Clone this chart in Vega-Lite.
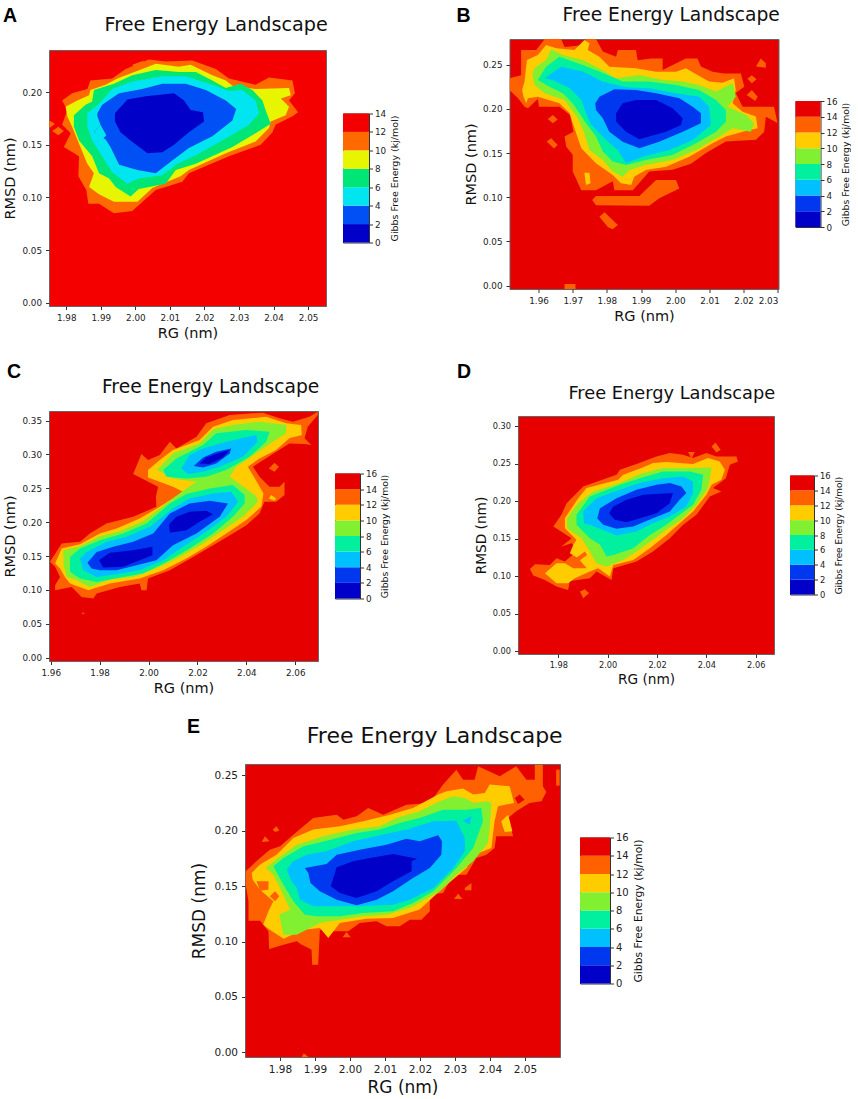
{"$schema":"https://vega.github.io/schema/vega-lite/v6.json","background":"white","padding":{"left":2,"top":5,"right":0,"bottom":0},"spacing":20,"align":"none","resolve":{"scale":{"color":"independent"}},
"config":{"font":"DejaVu Sans","axis":{"grid":false,"labelFontSize":8.8,"labelColor":"#222","labelOverlap":false,"titleColor":"#111","titleFontWeight":"normal","tickColor":"#333","domain":false,"tickSize":3.5,"labelPadding":4,"titleFontSize":14.5,"titlePadding":4}},
"datasets":{
"a":[
{"lv":12,"p":1,"x":1.9788,"y":0.192},{"lv":12,"p":1,"x":1.9817,"y":0.199},{"lv":12,"p":1,"x":1.9861,"y":0.203},{"lv":12,"p":1,"x":1.987,"y":0.211},{"lv":12,"p":1,"x":1.9933,"y":0.213},{"lv":12,"p":1,"x":1.9972,"y":0.222},{"lv":12,"p":1,"x":2.0039,"y":0.231},{"lv":12,"p":1,"x":2.0088,"y":0.229},{"lv":12,"p":1,"x":2.0165,"y":0.23},{"lv":12,"p":1,"x":2.0233,"y":0.222},{"lv":12,"p":1,"x":2.0271,"y":0.213},{"lv":12,"p":1,"x":2.0348,"y":0.207},{"lv":12,"p":1,"x":2.0387,"y":0.214},{"lv":12,"p":1,"x":2.0455,"y":0.211},{"lv":12,"p":1,"x":2.0462,"y":0.199},{"lv":12,"p":1,"x":2.0445,"y":0.192},{"lv":12,"p":1,"x":2.0471,"y":0.181},{"lv":12,"p":1,"x":2.0455,"y":0.177},{"lv":12,"p":1,"x":2.0406,"y":0.169},{"lv":12,"p":1,"x":2.0397,"y":0.162},{"lv":12,"p":1,"x":2.0363,"y":0.15},{"lv":12,"p":1,"x":2.0271,"y":0.139},{"lv":12,"p":1,"x":2.0155,"y":0.123},{"lv":12,"p":1,"x":2.0136,"y":0.115},{"lv":12,"p":1,"x":2.0059,"y":0.107},{"lv":12,"p":1,"x":1.9991,"y":0.087},{"lv":12,"p":1,"x":1.9938,"y":0.085},{"lv":12,"p":1,"x":1.9895,"y":0.094},{"lv":12,"p":1,"x":1.9864,"y":0.094},{"lv":12,"p":1,"x":1.9858,"y":0.107},{"lv":12,"p":1,"x":1.9835,"y":0.12},{"lv":12,"p":1,"x":1.9837,"y":0.139},{"lv":12,"p":1,"x":1.9793,"y":0.148},{"lv":12,"p":1,"x":1.9813,"y":0.161},{"lv":12,"p":1,"x":1.9788,"y":0.169},{"lv":12,"p":1,"x":1.9803,"y":0.183},
{"lv":12,"p":2,"x":1.9991,"y":0.226},{"lv":12,"p":2,"x":2.0025,"y":0.23},{"lv":12,"p":2,"x":2.0006,"y":0.22},
{"lv":12,"p":3,"x":1.975,"y":0.173},{"lv":12,"p":3,"x":1.9767,"y":0.17},{"lv":12,"p":3,"x":1.9752,"y":0.166},
{"lv":12,"p":4,"x":1.9759,"y":0.163},{"lv":12,"p":4,"x":1.9777,"y":0.167},{"lv":12,"p":4,"x":1.9793,"y":0.163},{"lv":12,"p":4,"x":1.9777,"y":0.159},
{"lv":10,"p":1,"x":1.9798,"y":0.186},{"lv":10,"p":1,"x":1.9832,"y":0.192},{"lv":10,"p":1,"x":1.9866,"y":0.197},{"lv":10,"p":1,"x":1.987,"y":0.202},{"lv":10,"p":1,"x":1.9914,"y":0.207},{"lv":10,"p":1,"x":1.9948,"y":0.213},{"lv":10,"p":1,"x":2.002,"y":0.222},{"lv":10,"p":1,"x":2.0059,"y":0.227},{"lv":10,"p":1,"x":2.0126,"y":0.224},{"lv":10,"p":1,"x":2.016,"y":0.226},{"lv":10,"p":1,"x":2.0223,"y":0.216},{"lv":10,"p":1,"x":2.0262,"y":0.211},{"lv":10,"p":1,"x":2.0281,"y":0.206},{"lv":10,"p":1,"x":2.0348,"y":0.203},{"lv":10,"p":1,"x":2.0445,"y":0.204},{"lv":10,"p":1,"x":2.045,"y":0.197},{"lv":10,"p":1,"x":2.0421,"y":0.194},{"lv":10,"p":1,"x":2.0445,"y":0.186},{"lv":10,"p":1,"x":2.0435,"y":0.178},{"lv":10,"p":1,"x":2.0392,"y":0.172},{"lv":10,"p":1,"x":2.0387,"y":0.166},{"lv":10,"p":1,"x":2.0348,"y":0.153},{"lv":10,"p":1,"x":2.0262,"y":0.142},{"lv":10,"p":1,"x":2.0155,"y":0.126},{"lv":10,"p":1,"x":2.0131,"y":0.12},{"lv":10,"p":1,"x":2.0049,"y":0.109},{"lv":10,"p":1,"x":2.0006,"y":0.096},{"lv":10,"p":1,"x":1.9938,"y":0.096},{"lv":10,"p":1,"x":1.9895,"y":0.103},{"lv":10,"p":1,"x":1.9866,"y":0.11},{"lv":10,"p":1,"x":1.988,"y":0.123},{"lv":10,"p":1,"x":1.9861,"y":0.132},{"lv":10,"p":1,"x":1.9837,"y":0.151},{"lv":10,"p":1,"x":1.9817,"y":0.167},{"lv":10,"p":1,"x":1.9803,"y":0.177},
{"lv":8,"p":1,"x":1.9822,"y":0.178},{"lv":8,"p":1,"x":1.9856,"y":0.188},{"lv":8,"p":1,"x":1.9875,"y":0.191},{"lv":8,"p":1,"x":1.988,"y":0.202},{"lv":8,"p":1,"x":1.9938,"y":0.208},{"lv":8,"p":1,"x":1.9991,"y":0.216},{"lv":8,"p":1,"x":2.0059,"y":0.221},{"lv":8,"p":1,"x":2.0126,"y":0.219},{"lv":8,"p":1,"x":2.0175,"y":0.219},{"lv":8,"p":1,"x":2.0223,"y":0.211},{"lv":8,"p":1,"x":2.0262,"y":0.204},{"lv":8,"p":1,"x":2.0305,"y":0.208},{"lv":8,"p":1,"x":2.0339,"y":0.202},{"lv":8,"p":1,"x":2.0368,"y":0.192},{"lv":8,"p":1,"x":2.0377,"y":0.183},{"lv":8,"p":1,"x":2.0392,"y":0.17},{"lv":8,"p":1,"x":2.0348,"y":0.161},{"lv":8,"p":1,"x":2.0281,"y":0.148},{"lv":8,"p":1,"x":2.0175,"y":0.132},{"lv":8,"p":1,"x":2.0117,"y":0.126},{"lv":8,"p":1,"x":2.0088,"y":0.113},{"lv":8,"p":1,"x":2.001,"y":0.108},{"lv":8,"p":1,"x":1.9986,"y":0.101},{"lv":8,"p":1,"x":1.9943,"y":0.11},{"lv":8,"p":1,"x":1.9924,"y":0.118},{"lv":8,"p":1,"x":1.9895,"y":0.123},{"lv":8,"p":1,"x":1.9875,"y":0.139},{"lv":8,"p":1,"x":1.9837,"y":0.154},{"lv":8,"p":1,"x":1.9822,"y":0.167},
{"lv":6,"p":1,"x":1.9861,"y":0.18},{"lv":6,"p":1,"x":1.9895,"y":0.189},{"lv":6,"p":1,"x":1.9933,"y":0.203},{"lv":6,"p":1,"x":1.9991,"y":0.21},{"lv":6,"p":1,"x":2.0078,"y":0.215},{"lv":6,"p":1,"x":2.0146,"y":0.215},{"lv":6,"p":1,"x":2.0223,"y":0.207},{"lv":6,"p":1,"x":2.0271,"y":0.201},{"lv":6,"p":1,"x":2.031,"y":0.202},{"lv":6,"p":1,"x":2.0348,"y":0.192},{"lv":6,"p":1,"x":2.0358,"y":0.18},{"lv":6,"p":1,"x":2.0329,"y":0.169},{"lv":6,"p":1,"x":2.0262,"y":0.156},{"lv":6,"p":1,"x":2.0175,"y":0.14},{"lv":6,"p":1,"x":2.0117,"y":0.131},{"lv":6,"p":1,"x":2.0078,"y":0.121},{"lv":6,"p":1,"x":2.001,"y":0.118},{"lv":6,"p":1,"x":1.9977,"y":0.113},{"lv":6,"p":1,"x":1.9933,"y":0.124},{"lv":6,"p":1,"x":1.9904,"y":0.139},{"lv":6,"p":1,"x":1.9875,"y":0.154},{"lv":6,"p":1,"x":1.9861,"y":0.167},
{"lv":4,"p":1,"x":1.989,"y":0.18},{"lv":4,"p":1,"x":1.9904,"y":0.188},{"lv":4,"p":1,"x":1.9953,"y":0.199},{"lv":4,"p":1,"x":2.002,"y":0.203},{"lv":4,"p":1,"x":2.0078,"y":0.208},{"lv":4,"p":1,"x":2.0146,"y":0.208},{"lv":4,"p":1,"x":2.0204,"y":0.202},{"lv":4,"p":1,"x":2.0262,"y":0.192},{"lv":4,"p":1,"x":2.0292,"y":0.184},{"lv":4,"p":1,"x":2.0281,"y":0.173},{"lv":4,"p":1,"x":2.0223,"y":0.158},{"lv":4,"p":1,"x":2.0155,"y":0.147},{"lv":4,"p":1,"x":2.0107,"y":0.135},{"lv":4,"p":1,"x":2.0059,"y":0.123},{"lv":4,"p":1,"x":2.0006,"y":0.126},{"lv":4,"p":1,"x":1.9953,"y":0.131},{"lv":4,"p":1,"x":1.9928,"y":0.148},{"lv":4,"p":1,"x":1.9914,"y":0.155},{"lv":4,"p":1,"x":1.988,"y":0.162},{"lv":4,"p":1,"x":1.9899,"y":0.169},{"lv":4,"p":1,"x":1.989,"y":0.177},
{"lv":6,"p":2,"x":1.988,"y":0.162},{"lv":6,"p":2,"x":1.9899,"y":0.169},{"lv":6,"p":2,"x":1.9916,"y":0.159},{"lv":6,"p":2,"x":1.9904,"y":0.155},
{"lv":2,"p":1,"x":1.9941,"y":0.18},{"lv":2,"p":1,"x":1.9977,"y":0.193},{"lv":2,"p":1,"x":2.003,"y":0.196},{"lv":2,"p":1,"x":2.0059,"y":0.197},{"lv":2,"p":1,"x":2.0112,"y":0.199},{"lv":2,"p":1,"x":2.0141,"y":0.192},{"lv":2,"p":1,"x":2.016,"y":0.183},{"lv":2,"p":1,"x":2.0196,"y":0.181},{"lv":2,"p":1,"x":2.0199,"y":0.172},{"lv":2,"p":1,"x":2.0155,"y":0.162},{"lv":2,"p":1,"x":2.0112,"y":0.15},{"lv":2,"p":1,"x":2.0078,"y":0.143},{"lv":2,"p":1,"x":2.0035,"y":0.142},{"lv":2,"p":1,"x":1.9986,"y":0.154},{"lv":2,"p":1,"x":1.9957,"y":0.162},{"lv":2,"p":1,"x":1.9941,"y":0.172}
],
"b":[
{"lv":14,"p":1,"x":1.9515,"y":0.2345},{"lv":14,"p":1,"x":1.9549,"y":0.238},{"lv":14,"p":1,"x":1.9549,"y":0.2666},{"lv":14,"p":1,"x":1.9593,"y":0.2666},{"lv":14,"p":1,"x":1.9618,"y":0.279},{"lv":14,"p":1,"x":1.9666,"y":0.279},{"lv":14,"p":1,"x":1.9676,"y":0.27},{"lv":14,"p":1,"x":1.9729,"y":0.272},{"lv":14,"p":1,"x":1.9739,"y":0.279},{"lv":14,"p":1,"x":1.9768,"y":0.279},{"lv":14,"p":1,"x":1.9788,"y":0.265},{"lv":14,"p":1,"x":1.9827,"y":0.259},{"lv":14,"p":1,"x":1.9832,"y":0.2666},{"lv":14,"p":1,"x":1.9885,"y":0.2666},{"lv":14,"p":1,"x":1.989,"y":0.255},{"lv":14,"p":1,"x":1.9929,"y":0.257},{"lv":14,"p":1,"x":1.9963,"y":0.257},{"lv":14,"p":1,"x":1.9963,"y":0.244},{"lv":14,"p":1,"x":2.0031,"y":0.257},{"lv":14,"p":1,"x":2.0065,"y":0.257},{"lv":14,"p":1,"x":2.0075,"y":0.248},{"lv":14,"p":1,"x":2.0109,"y":0.242},{"lv":14,"p":1,"x":2.0143,"y":0.24},{"lv":14,"p":1,"x":2.0192,"y":0.24},{"lv":14,"p":1,"x":2.0202,"y":0.225},{"lv":14,"p":1,"x":2.0177,"y":0.218},{"lv":14,"p":1,"x":2.0197,"y":0.2025},{"lv":14,"p":1,"x":2.0289,"y":0.2025},{"lv":14,"p":1,"x":2.0299,"y":0.184},{"lv":14,"p":1,"x":2.0265,"y":0.191},{"lv":14,"p":1,"x":2.026,"y":0.174},{"lv":14,"p":1,"x":2.0236,"y":0.165},{"lv":14,"p":1,"x":2.0148,"y":0.163},{"lv":14,"p":1,"x":2.009,"y":0.15},{"lv":14,"p":1,"x":2.0046,"y":0.138},{"lv":14,"p":1,"x":1.9992,"y":0.131},{"lv":14,"p":1,"x":1.9924,"y":0.129},{"lv":14,"p":1,"x":1.9876,"y":0.108},{"lv":14,"p":1,"x":1.9822,"y":0.108},{"lv":14,"p":1,"x":1.9817,"y":0.118},{"lv":14,"p":1,"x":1.9768,"y":0.108},{"lv":14,"p":1,"x":1.9725,"y":0.108},{"lv":14,"p":1,"x":1.97,"y":0.129},{"lv":14,"p":1,"x":1.97,"y":0.148},{"lv":14,"p":1,"x":1.9681,"y":0.157},{"lv":14,"p":1,"x":1.9676,"y":0.1686},{"lv":14,"p":1,"x":1.9702,"y":0.174},{"lv":14,"p":1,"x":1.9692,"y":0.193},{"lv":14,"p":1,"x":1.9661,"y":0.2025},{"lv":14,"p":1,"x":1.9601,"y":0.2025},{"lv":14,"p":1,"x":1.9598,"y":0.211},{"lv":14,"p":1,"x":1.9569,"y":0.2006},{"lv":14,"p":1,"x":1.9559,"y":0.2025},{"lv":14,"p":1,"x":1.954,"y":0.212},{"lv":14,"p":1,"x":1.9515,"y":0.2213},
{"lv":14,"p":2,"x":1.9627,"y":0.1885},{"lv":14,"p":2,"x":1.9642,"y":0.193},{"lv":14,"p":2,"x":1.9656,"y":0.188},{"lv":14,"p":2,"x":1.9642,"y":0.1836},
{"lv":14,"p":3,"x":1.9624,"y":0.163},{"lv":14,"p":3,"x":1.9637,"y":0.1667},{"lv":14,"p":3,"x":1.9656,"y":0.159},{"lv":14,"p":3,"x":1.9645,"y":0.155},
{"lv":14,"p":4,"x":2.0236,"y":0.248},{"lv":14,"p":4,"x":2.025,"y":0.257},{"lv":14,"p":4,"x":2.0265,"y":0.2515},{"lv":14,"p":4,"x":2.0265,"y":0.2466},
{"lv":14,"p":5,"x":2.0211,"y":0.234},{"lv":14,"p":5,"x":2.0224,"y":0.238},{"lv":14,"p":5,"x":2.0238,"y":0.2334},{"lv":14,"p":5,"x":2.0224,"y":0.229},
{"lv":14,"p":6,"x":2.0209,"y":0.2157},{"lv":14,"p":6,"x":2.0224,"y":0.2213},{"lv":14,"p":6,"x":2.0241,"y":0.2138},{"lv":14,"p":6,"x":2.0234,"y":0.209},
{"lv":14,"p":7,"x":1.9757,"y":0.097},{"lv":14,"p":7,"x":1.9768,"y":0.1014},{"lv":14,"p":7,"x":1.9895,"y":0.1014},{"lv":14,"p":7,"x":1.9944,"y":0.1195},{"lv":14,"p":7,"x":2.0002,"y":0.1195},{"lv":14,"p":7,"x":2.0012,"y":0.11},{"lv":14,"p":7,"x":1.9953,"y":0.0988},{"lv":14,"p":7,"x":1.9924,"y":0.0905},{"lv":14,"p":7,"x":1.9768,"y":0.091},
{"lv":14,"p":8,"x":1.9778,"y":0.078},{"lv":14,"p":8,"x":1.9793,"y":0.083},{"lv":14,"p":8,"x":1.9832,"y":0.0686},{"lv":14,"p":8,"x":1.9817,"y":0.0637},{"lv":14,"p":8,"x":1.9803,"y":0.066},
{"lv":14,"p":9,"x":1.9676,"y":-0.0038},{"lv":14,"p":9,"x":1.9676,"y":0.0019},{"lv":14,"p":9,"x":1.9708,"y":0.0019},{"lv":14,"p":9,"x":1.9708,"y":-0.0038},
{"lv":12,"p":1,"x":1.9552,"y":0.2213},{"lv":12,"p":1,"x":1.9559,"y":0.2308},{"lv":12,"p":1,"x":1.9566,"y":0.2553},{"lv":12,"p":1,"x":1.9598,"y":0.261},{"lv":12,"p":1,"x":1.9622,"y":0.2722},{"lv":12,"p":1,"x":1.9652,"y":0.2685},{"lv":12,"p":1,"x":1.9705,"y":0.2666},{"lv":12,"p":1,"x":1.9734,"y":0.278},{"lv":12,"p":1,"x":1.9749,"y":0.2741},{"lv":12,"p":1,"x":1.9744,"y":0.2666},{"lv":12,"p":1,"x":1.9778,"y":0.259},{"lv":12,"p":1,"x":1.9807,"y":0.2477},{"lv":12,"p":1,"x":1.9885,"y":0.2459},{"lv":12,"p":1,"x":1.9944,"y":0.242},{"lv":12,"p":1,"x":2.0002,"y":0.242},{"lv":12,"p":1,"x":2.0031,"y":0.2459},{"lv":12,"p":1,"x":2.0065,"y":0.2383},{"lv":12,"p":1,"x":2.0099,"y":0.2308},{"lv":12,"p":1,"x":2.0138,"y":0.2296},{"lv":12,"p":1,"x":2.0172,"y":0.2345},{"lv":12,"p":1,"x":2.0177,"y":0.2213},{"lv":12,"p":1,"x":2.0168,"y":0.2063},{"lv":12,"p":1,"x":2.0197,"y":0.1968},{"lv":12,"p":1,"x":2.0236,"y":0.1912},{"lv":12,"p":1,"x":2.0241,"y":0.178},{"lv":12,"p":1,"x":2.0197,"y":0.1742},{"lv":12,"p":1,"x":2.0148,"y":0.1686},{"lv":12,"p":1,"x":2.0109,"y":0.161},{"lv":12,"p":1,"x":2.0041,"y":0.1459},{"lv":12,"p":1,"x":1.9973,"y":0.1346},{"lv":12,"p":1,"x":1.9914,"y":0.1308},{"lv":12,"p":1,"x":1.988,"y":0.1233},{"lv":12,"p":1,"x":1.9871,"y":0.1139},{"lv":12,"p":1,"x":1.9841,"y":0.1158},{"lv":12,"p":1,"x":1.9817,"y":0.1252},{"lv":12,"p":1,"x":1.9768,"y":0.1384},{"lv":12,"p":1,"x":1.9725,"y":0.1554},{"lv":12,"p":1,"x":1.9705,"y":0.178},{"lv":12,"p":1,"x":1.9691,"y":0.195},{"lv":12,"p":1,"x":1.9661,"y":0.2063},{"lv":12,"p":1,"x":1.9598,"y":0.2138},{"lv":12,"p":1,"x":1.9569,"y":0.2119},{"lv":12,"p":1,"x":1.9564,"y":0.2063},{"lv":12,"p":1,"x":1.9556,"y":0.2138},
{"lv":12,"p":2,"x":1.9734,"y":0.1278},{"lv":12,"p":2,"x":1.9749,"y":0.1278},{"lv":12,"p":2,"x":1.9752,"y":0.1158},{"lv":12,"p":2,"x":1.9739,"y":0.1139},
{"lv":10,"p":1,"x":1.9582,"y":0.2383},{"lv":10,"p":1,"x":1.9588,"y":0.2459},{"lv":10,"p":1,"x":1.9622,"y":0.2553},{"lv":10,"p":1,"x":1.9637,"y":0.2673},{"lv":10,"p":1,"x":1.9671,"y":0.2609},{"lv":10,"p":1,"x":1.9729,"y":0.2553},{"lv":10,"p":1,"x":1.9778,"y":0.2459},{"lv":10,"p":1,"x":1.9827,"y":0.2345},{"lv":10,"p":1,"x":1.9895,"y":0.2383},{"lv":10,"p":1,"x":1.9963,"y":0.2327},{"lv":10,"p":1,"x":2.0022,"y":0.2308},{"lv":10,"p":1,"x":2.007,"y":0.227},{"lv":10,"p":1,"x":2.0119,"y":0.2195},{"lv":10,"p":1,"x":2.0168,"y":0.2289},{"lv":10,"p":1,"x":2.0177,"y":0.2138},{"lv":10,"p":1,"x":2.0153,"y":0.2025},{"lv":10,"p":1,"x":2.0207,"y":0.1931},{"lv":10,"p":1,"x":2.0231,"y":0.1836},{"lv":10,"p":1,"x":2.0221,"y":0.1742},{"lv":10,"p":1,"x":2.0168,"y":0.178},{"lv":10,"p":1,"x":2.0129,"y":0.1686},{"lv":10,"p":1,"x":2.0061,"y":0.1535},{"lv":10,"p":1,"x":1.9992,"y":0.1422},{"lv":10,"p":1,"x":1.9914,"y":0.1365},{"lv":10,"p":1,"x":1.9866,"y":0.1308},{"lv":10,"p":1,"x":1.9846,"y":0.1233},{"lv":10,"p":1,"x":1.9817,"y":0.129},{"lv":10,"p":1,"x":1.9788,"y":0.1422},{"lv":10,"p":1,"x":1.9749,"y":0.1535},{"lv":10,"p":1,"x":1.9734,"y":0.1723},{"lv":10,"p":1,"x":1.9715,"y":0.1893},{"lv":10,"p":1,"x":1.9676,"y":0.21},{"lv":10,"p":1,"x":1.9618,"y":0.2176},{"lv":10,"p":1,"x":1.9588,"y":0.227},
{"lv":8,"p":1,"x":1.9598,"y":0.2327},{"lv":8,"p":1,"x":1.9622,"y":0.2477},{"lv":8,"p":1,"x":1.9661,"y":0.259},{"lv":8,"p":1,"x":1.9729,"y":0.2496},{"lv":8,"p":1,"x":1.9778,"y":0.2421},{"lv":8,"p":1,"x":1.9846,"y":0.2308},{"lv":8,"p":1,"x":1.9924,"y":0.2308},{"lv":8,"p":1,"x":2.0002,"y":0.227},{"lv":8,"p":1,"x":2.007,"y":0.2213},{"lv":8,"p":1,"x":2.0119,"y":0.21},{"lv":8,"p":1,"x":2.0148,"y":0.1987},{"lv":8,"p":1,"x":2.0148,"y":0.1855},{"lv":8,"p":1,"x":2.0119,"y":0.1742},{"lv":8,"p":1,"x":2.0061,"y":0.161},{"lv":8,"p":1,"x":1.9992,"y":0.1478},{"lv":8,"p":1,"x":1.9914,"y":0.1422},{"lv":8,"p":1,"x":1.9856,"y":0.1365},{"lv":8,"p":1,"x":1.9817,"y":0.1403},{"lv":8,"p":1,"x":1.9788,"y":0.1516},{"lv":8,"p":1,"x":1.9768,"y":0.1686},{"lv":8,"p":1,"x":1.9739,"y":0.1836},{"lv":8,"p":1,"x":1.97,"y":0.2063},{"lv":8,"p":1,"x":1.9671,"y":0.2176},{"lv":8,"p":1,"x":1.9632,"y":0.2251},
{"lv":6,"p":1,"x":1.9618,"y":0.2345},{"lv":6,"p":1,"x":1.9666,"y":0.2477},{"lv":6,"p":1,"x":1.9729,"y":0.2421},{"lv":6,"p":1,"x":1.9788,"y":0.2308},{"lv":6,"p":1,"x":1.9856,"y":0.2244},{"lv":6,"p":1,"x":1.9924,"y":0.2232},{"lv":6,"p":1,"x":2.0002,"y":0.2176},{"lv":6,"p":1,"x":2.007,"y":0.2138},{"lv":6,"p":1,"x":2.0099,"y":0.2025},{"lv":6,"p":1,"x":2.0104,"y":0.1817},{"lv":6,"p":1,"x":2.0051,"y":0.1648},{"lv":6,"p":1,"x":1.9983,"y":0.1535},{"lv":6,"p":1,"x":1.9905,"y":0.1459},{"lv":6,"p":1,"x":1.9856,"y":0.1384},{"lv":6,"p":1,"x":1.9832,"y":0.1535},{"lv":6,"p":1,"x":1.9798,"y":0.1648},{"lv":6,"p":1,"x":1.9754,"y":0.1817},{"lv":6,"p":1,"x":1.9739,"y":0.195},{"lv":6,"p":1,"x":1.9725,"y":0.21},{"lv":6,"p":1,"x":1.9691,"y":0.2232},{"lv":6,"p":1,"x":1.9642,"y":0.2327},
{"lv":4,"p":1,"x":1.9766,"y":0.2063},{"lv":4,"p":1,"x":1.9778,"y":0.2138},{"lv":4,"p":1,"x":1.9822,"y":0.2221},{"lv":4,"p":1,"x":1.9885,"y":0.2213},{"lv":4,"p":1,"x":1.9944,"y":0.2176},{"lv":4,"p":1,"x":2.0012,"y":0.2119},{"lv":4,"p":1,"x":2.0051,"y":0.2025},{"lv":4,"p":1,"x":2.0075,"y":0.1949},{"lv":4,"p":1,"x":2.0075,"y":0.1836},{"lv":4,"p":1,"x":2.0022,"y":0.1742},{"lv":4,"p":1,"x":1.9953,"y":0.1629},{"lv":4,"p":1,"x":1.9895,"y":0.1554},{"lv":4,"p":1,"x":1.9846,"y":0.1629},{"lv":4,"p":1,"x":1.9807,"y":0.1742},{"lv":4,"p":1,"x":1.9788,"y":0.1893},{"lv":4,"p":1,"x":1.9768,"y":0.1987},
{"lv":2,"p":1,"x":1.9827,"y":0.1949},{"lv":2,"p":1,"x":1.9846,"y":0.2063},{"lv":2,"p":1,"x":1.9885,"y":0.21},{"lv":2,"p":1,"x":1.9944,"y":0.21},{"lv":2,"p":1,"x":1.9992,"y":0.2006},{"lv":2,"p":1,"x":2.0022,"y":0.1893},{"lv":2,"p":1,"x":2.0017,"y":0.1817},{"lv":2,"p":1,"x":1.9973,"y":0.1742},{"lv":2,"p":1,"x":1.9895,"y":0.1655},{"lv":2,"p":1,"x":1.9856,"y":0.1742},{"lv":2,"p":1,"x":1.9827,"y":0.1855}
],
"c":[
{"lv":14,"p":1,"x":1.9597,"y":0.1415},{"lv":14,"p":1,"x":1.9645,"y":0.1686},{"lv":14,"p":1,"x":1.972,"y":0.171},{"lv":14,"p":1,"x":1.976,"y":0.1833},{"lv":14,"p":1,"x":1.9828,"y":0.1981},{"lv":14,"p":1,"x":1.9937,"y":0.208},{"lv":14,"p":1,"x":2.0032,"y":0.2228},{"lv":14,"p":1,"x":2.003,"y":0.2376},{"lv":14,"p":1,"x":2.0039,"y":0.2523},{"lv":14,"p":1,"x":1.9937,"y":0.2711},{"lv":14,"p":1,"x":1.9971,"y":0.3006},{"lv":14,"p":1,"x":1.9998,"y":0.2918},{"lv":14,"p":1,"x":2.0046,"y":0.2992},{"lv":14,"p":1,"x":2.0087,"y":0.3189},{"lv":14,"p":1,"x":2.0114,"y":0.309},{"lv":14,"p":1,"x":2.0196,"y":0.3263},{"lv":14,"p":1,"x":2.0236,"y":0.346},{"lv":14,"p":1,"x":2.0332,"y":0.3583},{"lv":14,"p":1,"x":2.0468,"y":0.3618},{"lv":14,"p":1,"x":2.0536,"y":0.3534},{"lv":14,"p":1,"x":2.059,"y":0.3485},{"lv":14,"p":1,"x":2.0658,"y":0.3558},{"lv":14,"p":1,"x":2.0692,"y":0.3632},{"lv":14,"p":1,"x":2.0692,"y":0.3583},{"lv":14,"p":1,"x":2.0651,"y":0.3411},{"lv":14,"p":1,"x":2.0638,"y":0.3238},{"lv":14,"p":1,"x":2.0665,"y":0.3139},{"lv":14,"p":1,"x":2.0638,"y":0.3154},{"lv":14,"p":1,"x":2.0576,"y":0.3164},{"lv":14,"p":1,"x":2.0522,"y":0.3041},{"lv":14,"p":1,"x":2.0427,"y":0.2819},{"lv":14,"p":1,"x":2.0454,"y":0.2671},{"lv":14,"p":1,"x":2.0495,"y":0.2523},{"lv":14,"p":1,"x":2.0536,"y":0.2523},{"lv":14,"p":1,"x":2.0556,"y":0.2597},{"lv":14,"p":1,"x":2.0556,"y":0.24},{"lv":14,"p":1,"x":2.0522,"y":0.2302},{"lv":14,"p":1,"x":2.0474,"y":0.2302},{"lv":14,"p":1,"x":2.0454,"y":0.2129},{"lv":14,"p":1,"x":2.04,"y":0.1957},{"lv":14,"p":1,"x":2.0345,"y":0.1833},{"lv":14,"p":1,"x":2.0264,"y":0.1661},{"lv":14,"p":1,"x":2.0182,"y":0.1488},{"lv":14,"p":1,"x":2.0087,"y":0.1291},{"lv":14,"p":1,"x":1.9998,"y":0.1168},{"lv":14,"p":1,"x":1.9992,"y":0.0996},{"lv":14,"p":1,"x":1.9971,"y":0.0996},{"lv":14,"p":1,"x":1.9964,"y":0.1094},{"lv":14,"p":1,"x":1.9883,"y":0.1045},{"lv":14,"p":1,"x":1.9788,"y":0.0946},{"lv":14,"p":1,"x":1.9774,"y":0.0872},{"lv":14,"p":1,"x":1.9726,"y":0.0897},{"lv":14,"p":1,"x":1.9686,"y":0.1045},{"lv":14,"p":1,"x":1.9618,"y":0.0996},{"lv":14,"p":1,"x":1.9618,"y":0.107},{"lv":14,"p":1,"x":1.9638,"y":0.1193},{"lv":14,"p":1,"x":1.9618,"y":0.1341},
{"lv":14,"p":2,"x":2.0492,"y":0.2794},{"lv":14,"p":2,"x":2.0515,"y":0.2878},{"lv":14,"p":2,"x":2.0533,"y":0.2819},{"lv":14,"p":2,"x":2.0515,"y":0.2745},
{"lv":14,"p":3,"x":1.9726,"y":0.0665},{"lv":14,"p":3,"x":1.974,"y":0.0665},{"lv":14,"p":3,"x":1.9733,"y":0.0636},
{"lv":12,"p":1,"x":1.9618,"y":0.139},{"lv":12,"p":1,"x":1.9645,"y":0.1612},{"lv":12,"p":1,"x":1.972,"y":0.1676},{"lv":12,"p":1,"x":1.9801,"y":0.1833},{"lv":12,"p":1,"x":1.9869,"y":0.1907},{"lv":12,"p":1,"x":1.9964,"y":0.2055},{"lv":12,"p":1,"x":2.0046,"y":0.2228},{"lv":12,"p":1,"x":2.0141,"y":0.2449},{"lv":12,"p":1,"x":2.01,"y":0.2523},{"lv":12,"p":1,"x":1.9998,"y":0.2661},{"lv":12,"p":1,"x":1.9998,"y":0.277},{"lv":12,"p":1,"x":2.0046,"y":0.2918},{"lv":12,"p":1,"x":2.01,"y":0.3066},{"lv":12,"p":1,"x":2.0209,"y":0.3213},{"lv":12,"p":1,"x":2.0264,"y":0.3411},{"lv":12,"p":1,"x":2.0345,"y":0.3509},{"lv":12,"p":1,"x":2.0481,"y":0.3558},{"lv":12,"p":1,"x":2.0563,"y":0.346},{"lv":12,"p":1,"x":2.0624,"y":0.3435},{"lv":12,"p":1,"x":2.0627,"y":0.3287},{"lv":12,"p":1,"x":2.0576,"y":0.3238},{"lv":12,"p":1,"x":2.0522,"y":0.3066},{"lv":12,"p":1,"x":2.0454,"y":0.2942},{"lv":12,"p":1,"x":2.0406,"y":0.2819},{"lv":12,"p":1,"x":2.0447,"y":0.2573},{"lv":12,"p":1,"x":2.047,"y":0.2425},{"lv":12,"p":1,"x":2.0461,"y":0.2228},{"lv":12,"p":1,"x":2.04,"y":0.2031},{"lv":12,"p":1,"x":2.0318,"y":0.1833},{"lv":12,"p":1,"x":2.0236,"y":0.1636},{"lv":12,"p":1,"x":2.0155,"y":0.1464},{"lv":12,"p":1,"x":2.006,"y":0.1291},{"lv":12,"p":1,"x":1.9964,"y":0.1168},{"lv":12,"p":1,"x":1.9842,"y":0.1094},{"lv":12,"p":1,"x":1.9754,"y":0.0996},{"lv":12,"p":1,"x":1.9679,"y":0.1094},{"lv":12,"p":1,"x":1.9658,"y":0.1193},{"lv":12,"p":1,"x":1.9638,"y":0.1316},
{"lv":12,"p":2,"x":2.0492,"y":0.2351},{"lv":12,"p":2,"x":2.0502,"y":0.24},{"lv":12,"p":2,"x":2.0522,"y":0.2351},{"lv":12,"p":2,"x":2.0515,"y":0.2316},
{"lv":10,"p":1,"x":1.9652,"y":0.1587},{"lv":10,"p":1,"x":1.972,"y":0.1646},{"lv":10,"p":1,"x":1.9801,"y":0.1794},{"lv":10,"p":1,"x":1.9883,"y":0.1868},{"lv":10,"p":1,"x":1.9978,"y":0.2016},{"lv":10,"p":1,"x":2.0073,"y":0.2277},{"lv":10,"p":1,"x":2.0141,"y":0.2464},{"lv":10,"p":1,"x":2.0196,"y":0.2597},{"lv":10,"p":1,"x":2.01,"y":0.2647},{"lv":10,"p":1,"x":2.0035,"y":0.277},{"lv":10,"p":1,"x":2.01,"y":0.3016},{"lv":10,"p":1,"x":2.0209,"y":0.3164},{"lv":10,"p":1,"x":2.0264,"y":0.3371},{"lv":10,"p":1,"x":2.0345,"y":0.3435},{"lv":10,"p":1,"x":2.0454,"y":0.3485},{"lv":10,"p":1,"x":2.0563,"y":0.3435},{"lv":10,"p":1,"x":2.0563,"y":0.3312},{"lv":10,"p":1,"x":2.0508,"y":0.3189},{"lv":10,"p":1,"x":2.044,"y":0.3016},{"lv":10,"p":1,"x":2.0359,"y":0.2819},{"lv":10,"p":1,"x":2.0332,"y":0.2671},{"lv":10,"p":1,"x":2.0379,"y":0.2548},{"lv":10,"p":1,"x":2.044,"y":0.2385},{"lv":10,"p":1,"x":2.0447,"y":0.2302},{"lv":10,"p":1,"x":2.0393,"y":0.2104},{"lv":10,"p":1,"x":2.0304,"y":0.1883},{"lv":10,"p":1,"x":2.0223,"y":0.1686},{"lv":10,"p":1,"x":2.0128,"y":0.1488},{"lv":10,"p":1,"x":2.0032,"y":0.1316},{"lv":10,"p":1,"x":1.9937,"y":0.1193},{"lv":10,"p":1,"x":1.9842,"y":0.1153},{"lv":10,"p":1,"x":1.976,"y":0.1045},{"lv":10,"p":1,"x":1.9699,"y":0.1153},{"lv":10,"p":1,"x":1.9665,"y":0.1193},{"lv":10,"p":1,"x":1.9652,"y":0.139},
{"lv":8,"p":1,"x":1.9679,"y":0.1488},{"lv":8,"p":1,"x":1.972,"y":0.1612},{"lv":8,"p":1,"x":1.9801,"y":0.1735},{"lv":8,"p":1,"x":1.9896,"y":0.1833},{"lv":8,"p":1,"x":1.9992,"y":0.1981},{"lv":8,"p":1,"x":2.0087,"y":0.2277},{"lv":8,"p":1,"x":2.0155,"y":0.2415},{"lv":8,"p":1,"x":2.025,"y":0.2499},{"lv":8,"p":1,"x":2.0345,"y":0.2548},{"lv":8,"p":1,"x":2.0393,"y":0.24},{"lv":8,"p":1,"x":2.0393,"y":0.2277},{"lv":8,"p":1,"x":2.0345,"y":0.208},{"lv":8,"p":1,"x":2.0264,"y":0.1833},{"lv":8,"p":1,"x":2.0168,"y":0.1612},{"lv":8,"p":1,"x":2.0073,"y":0.1414},{"lv":8,"p":1,"x":1.9978,"y":0.1242},{"lv":8,"p":1,"x":1.9896,"y":0.1193},{"lv":8,"p":1,"x":1.9788,"y":0.1119},{"lv":8,"p":1,"x":1.972,"y":0.1168},{"lv":8,"p":1,"x":1.9679,"y":0.1267},
{"lv":8,"p":2,"x":2.006,"y":0.277},{"lv":8,"p":2,"x":2.0114,"y":0.2942},{"lv":8,"p":2,"x":2.0223,"y":0.3139},{"lv":8,"p":2,"x":2.0277,"y":0.3312},{"lv":8,"p":2,"x":2.04,"y":0.3361},{"lv":8,"p":2,"x":2.0495,"y":0.3337},{"lv":8,"p":2,"x":2.0481,"y":0.3189},{"lv":8,"p":2,"x":2.0413,"y":0.2967},{"lv":8,"p":2,"x":2.0318,"y":0.277},{"lv":8,"p":2,"x":2.0236,"y":0.2671},{"lv":8,"p":2,"x":2.0155,"y":0.2647},{"lv":8,"p":2,"x":2.0073,"y":0.2671},
{"lv":6,"p":1,"x":1.972,"y":0.1464},{"lv":6,"p":1,"x":1.9747,"y":0.1562},{"lv":6,"p":1,"x":1.9828,"y":0.171},{"lv":6,"p":1,"x":1.991,"y":0.1784},{"lv":6,"p":1,"x":2.0005,"y":0.1932},{"lv":6,"p":1,"x":2.01,"y":0.2203},{"lv":6,"p":1,"x":2.0168,"y":0.2351},{"lv":6,"p":1,"x":2.0264,"y":0.2425},{"lv":6,"p":1,"x":2.0338,"y":0.2449},{"lv":6,"p":1,"x":2.0366,"y":0.2302},{"lv":6,"p":1,"x":2.0318,"y":0.208},{"lv":6,"p":1,"x":2.0236,"y":0.1858},{"lv":6,"p":1,"x":2.0141,"y":0.1636},{"lv":6,"p":1,"x":2.006,"y":0.1439},{"lv":6,"p":1,"x":1.9964,"y":0.1291},{"lv":6,"p":1,"x":1.9869,"y":0.1232},{"lv":6,"p":1,"x":1.9788,"y":0.1193},{"lv":6,"p":1,"x":1.9733,"y":0.1291},
{"lv":6,"p":2,"x":2.0134,"y":0.2794},{"lv":6,"p":2,"x":2.0168,"y":0.2992},{"lv":6,"p":2,"x":2.0223,"y":0.309},{"lv":6,"p":2,"x":2.0318,"y":0.3189},{"lv":6,"p":2,"x":2.044,"y":0.3287},{"lv":6,"p":2,"x":2.0447,"y":0.3189},{"lv":6,"p":2,"x":2.0386,"y":0.2967},{"lv":6,"p":2,"x":2.0291,"y":0.2819},{"lv":6,"p":2,"x":2.0223,"y":0.2745},{"lv":6,"p":2,"x":2.0162,"y":0.2711},
{"lv":4,"p":1,"x":1.975,"y":0.14},{"lv":4,"p":1,"x":1.9788,"y":0.1562},{"lv":4,"p":1,"x":1.9856,"y":0.1636},{"lv":4,"p":1,"x":1.9937,"y":0.171},{"lv":4,"p":1,"x":2.0019,"y":0.1833},{"lv":4,"p":1,"x":2.0087,"y":0.2129},{"lv":4,"p":1,"x":2.0168,"y":0.2277},{"lv":4,"p":1,"x":2.025,"y":0.2316},{"lv":4,"p":1,"x":2.0325,"y":0.2277},{"lv":4,"p":1,"x":2.0291,"y":0.208},{"lv":4,"p":1,"x":2.0196,"y":0.1833},{"lv":4,"p":1,"x":2.01,"y":0.1661},{"lv":4,"p":1,"x":2.0032,"y":0.1439},{"lv":4,"p":1,"x":1.9951,"y":0.1365},{"lv":4,"p":1,"x":1.9869,"y":0.1291},{"lv":4,"p":1,"x":1.9801,"y":0.1291},{"lv":4,"p":1,"x":1.9767,"y":0.1316},
{"lv":4,"p":2,"x":2.0185,"y":0.2829},{"lv":4,"p":2,"x":2.0223,"y":0.2957},{"lv":4,"p":2,"x":2.0277,"y":0.3041},{"lv":4,"p":2,"x":2.0338,"y":0.309},{"lv":4,"p":2,"x":2.0332,"y":0.3016},{"lv":4,"p":2,"x":2.0277,"y":0.2868},{"lv":4,"p":2,"x":2.0223,"y":0.2809},
{"lv":2,"p":1,"x":1.9797,"y":0.1439},{"lv":2,"p":1,"x":1.9842,"y":0.1548},{"lv":2,"p":1,"x":1.9937,"y":0.1587},{"lv":2,"p":1,"x":2.0016,"y":0.1636},{"lv":2,"p":1,"x":2.0016,"y":0.1513},{"lv":2,"p":1,"x":1.9964,"y":0.1439},{"lv":2,"p":1,"x":1.9896,"y":0.1341},{"lv":2,"p":1,"x":1.9815,"y":0.1331},
{"lv":2,"p":2,"x":2.0084,"y":0.1971},{"lv":2,"p":2,"x":2.0114,"y":0.208},{"lv":2,"p":2,"x":2.0168,"y":0.2154},{"lv":2,"p":2,"x":2.0236,"y":0.2169},{"lv":2,"p":2,"x":2.0264,"y":0.2119},{"lv":2,"p":2,"x":2.0209,"y":0.2006},{"lv":2,"p":2,"x":2.0155,"y":0.1883},{"lv":2,"p":2,"x":2.0087,"y":0.1843},
{"lv":2,"p":3,"x":2.0209,"y":0.2868},{"lv":2,"p":3,"x":2.0236,"y":0.2957},{"lv":2,"p":3,"x":2.0291,"y":0.3026},{"lv":2,"p":3,"x":2.0332,"y":0.3066},{"lv":2,"p":3,"x":2.0304,"y":0.2957},{"lv":2,"p":3,"x":2.025,"y":0.2859}
],
"d":[
{"lv":14,"p":1,"x":1.9685,"y":0.1097},{"lv":14,"p":1,"x":1.9706,"y":0.1159},{"lv":14,"p":1,"x":1.9766,"y":0.115},{"lv":14,"p":1,"x":1.9793,"y":0.1239},{"lv":14,"p":1,"x":1.9827,"y":0.1195},{"lv":14,"p":1,"x":1.9881,"y":0.1351},{"lv":14,"p":1,"x":1.9854,"y":0.144},{"lv":14,"p":1,"x":1.9813,"y":0.1395},{"lv":14,"p":1,"x":1.9854,"y":0.1507},{"lv":14,"p":1,"x":1.978,"y":0.1663},{"lv":14,"p":1,"x":1.9813,"y":0.1819},{"lv":14,"p":1,"x":1.9834,"y":0.1975},{"lv":14,"p":1,"x":1.9901,"y":0.2198},{"lv":14,"p":1,"x":2.0036,"y":0.2354},{"lv":14,"p":1,"x":2.005,"y":0.2421},{"lv":14,"p":1,"x":2.0117,"y":0.2497},{"lv":14,"p":1,"x":2.0198,"y":0.2599},{"lv":14,"p":1,"x":2.0252,"y":0.2644},{"lv":14,"p":1,"x":2.0306,"y":0.2621},{"lv":14,"p":1,"x":2.0346,"y":0.2577},{"lv":14,"p":1,"x":2.04,"y":0.2644},{"lv":14,"p":1,"x":2.0441,"y":0.2599},{"lv":14,"p":1,"x":2.0522,"y":0.2599},{"lv":14,"p":1,"x":2.0528,"y":0.2532},{"lv":14,"p":1,"x":2.0495,"y":0.2488},{"lv":14,"p":1,"x":2.0479,"y":0.2309},{"lv":14,"p":1,"x":2.0427,"y":0.2176},{"lv":14,"p":1,"x":2.0461,"y":0.2131},{"lv":14,"p":1,"x":2.0414,"y":0.2064},{"lv":14,"p":1,"x":2.036,"y":0.1819},{"lv":14,"p":1,"x":2.0306,"y":0.1685},{"lv":14,"p":1,"x":2.0252,"y":0.1507},{"lv":14,"p":1,"x":2.0184,"y":0.1329},{"lv":14,"p":1,"x":2.0117,"y":0.1195},{"lv":14,"p":1,"x":2.0023,"y":0.1106},{"lv":14,"p":1,"x":2.0016,"y":0.095},{"lv":14,"p":1,"x":1.9955,"y":0.1061},{"lv":14,"p":1,"x":1.9928,"y":0.0972},{"lv":14,"p":1,"x":1.9847,"y":0.0936},{"lv":14,"p":1,"x":1.984,"y":0.0816},{"lv":14,"p":1,"x":1.9793,"y":0.086},{"lv":14,"p":1,"x":1.9746,"y":0.095},{"lv":14,"p":1,"x":1.9699,"y":0.1008},
{"lv":14,"p":2,"x":1.9888,"y":0.0794},{"lv":14,"p":2,"x":1.9908,"y":0.0825},{"lv":14,"p":2,"x":1.9925,"y":0.0771},{"lv":14,"p":2,"x":1.9901,"y":0.0704},
{"lv":14,"p":3,"x":2.0326,"y":0.2657},{"lv":14,"p":3,"x":2.0353,"y":0.2657},{"lv":14,"p":3,"x":2.034,"y":0.2568},
{"lv":14,"p":4,"x":2.0421,"y":0.2733},{"lv":14,"p":4,"x":2.0437,"y":0.2786},{"lv":14,"p":4,"x":2.0458,"y":0.2688},{"lv":14,"p":4,"x":2.0441,"y":0.2653},
{"lv":12,"p":1,"x":1.9827,"y":0.1641},{"lv":12,"p":1,"x":1.9827,"y":0.1774},{"lv":12,"p":1,"x":1.9881,"y":0.2042},{"lv":12,"p":1,"x":1.9915,"y":0.2176},{"lv":12,"p":1,"x":2.0043,"y":0.2287},{"lv":12,"p":1,"x":2.0063,"y":0.2354},{"lv":12,"p":1,"x":2.0137,"y":0.2443},{"lv":12,"p":1,"x":2.0184,"y":0.251},{"lv":12,"p":1,"x":2.0238,"y":0.2523},{"lv":12,"p":1,"x":2.0346,"y":0.2497},{"lv":12,"p":1,"x":2.0407,"y":0.2577},{"lv":12,"p":1,"x":2.0454,"y":0.2532},{"lv":12,"p":1,"x":2.0475,"y":0.2421},{"lv":12,"p":1,"x":2.0461,"y":0.2287},{"lv":12,"p":1,"x":2.0421,"y":0.222},{"lv":12,"p":1,"x":2.04,"y":0.2086},{"lv":12,"p":1,"x":2.0346,"y":0.1864},{"lv":12,"p":1,"x":2.0292,"y":0.1708},{"lv":12,"p":1,"x":2.0238,"y":0.1551},{"lv":12,"p":1,"x":2.0171,"y":0.1373},{"lv":12,"p":1,"x":2.0104,"y":0.1217},{"lv":12,"p":1,"x":2.0023,"y":0.115},{"lv":12,"p":1,"x":2.0009,"y":0.0994},{"lv":12,"p":1,"x":1.9962,"y":0.1106},{"lv":12,"p":1,"x":1.9928,"y":0.1061},{"lv":12,"p":1,"x":1.9867,"y":0.0972},{"lv":12,"p":1,"x":1.984,"y":0.0905},{"lv":12,"p":1,"x":1.9793,"y":0.0905},{"lv":12,"p":1,"x":1.9746,"y":0.1039},{"lv":12,"p":1,"x":1.9793,"y":0.1173},{"lv":12,"p":1,"x":1.9827,"y":0.1173},{"lv":12,"p":1,"x":1.9861,"y":0.1106},{"lv":12,"p":1,"x":1.9915,"y":0.1106},{"lv":12,"p":1,"x":1.9881,"y":0.1239},{"lv":12,"p":1,"x":1.9847,"y":0.1306},{"lv":12,"p":1,"x":1.9861,"y":0.1418},{"lv":12,"p":1,"x":1.9874,"y":0.1485},
{"lv":14,"p":5,"x":1.9871,"y":0.1239},{"lv":14,"p":5,"x":1.9908,"y":0.1329},{"lv":14,"p":5,"x":1.9917,"y":0.1284},{"lv":14,"p":5,"x":1.9881,"y":0.1195},
{"lv":10,"p":1,"x":1.9836,"y":0.1641},{"lv":10,"p":1,"x":1.9836,"y":0.1774},{"lv":10,"p":1,"x":1.9881,"y":0.1975},{"lv":10,"p":1,"x":1.9942,"y":0.2131},{"lv":10,"p":1,"x":2.005,"y":0.2243},{"lv":10,"p":1,"x":2.0131,"y":0.2363},{"lv":10,"p":1,"x":2.0225,"y":0.2443},{"lv":10,"p":1,"x":2.0333,"y":0.2443},{"lv":10,"p":1,"x":2.0421,"y":0.2452},{"lv":10,"p":1,"x":2.0407,"y":0.2176},{"lv":10,"p":1,"x":2.036,"y":0.1953},{"lv":10,"p":1,"x":2.0306,"y":0.1774},{"lv":10,"p":1,"x":2.0238,"y":0.1618},{"lv":10,"p":1,"x":2.0184,"y":0.1485},{"lv":10,"p":1,"x":2.0117,"y":0.1329},{"lv":10,"p":1,"x":2.0063,"y":0.1217},{"lv":10,"p":1,"x":1.9996,"y":0.1128},{"lv":10,"p":1,"x":1.9955,"y":0.1173},{"lv":10,"p":1,"x":1.9928,"y":0.1329},{"lv":10,"p":1,"x":1.9894,"y":0.1507},
{"lv":8,"p":1,"x":1.9874,"y":0.1685},{"lv":8,"p":1,"x":1.9874,"y":0.1819},{"lv":8,"p":1,"x":1.9928,"y":0.2064},{"lv":8,"p":1,"x":2.005,"y":0.222},{"lv":8,"p":1,"x":2.0131,"y":0.2309},{"lv":8,"p":1,"x":2.0225,"y":0.2399},{"lv":8,"p":1,"x":2.0333,"y":0.2399},{"lv":8,"p":1,"x":2.0387,"y":0.2354},{"lv":8,"p":1,"x":2.038,"y":0.2153},{"lv":8,"p":1,"x":2.0346,"y":0.1953},{"lv":8,"p":1,"x":2.0292,"y":0.1819},{"lv":8,"p":1,"x":2.0238,"y":0.1685},{"lv":8,"p":1,"x":2.0171,"y":0.1551},{"lv":8,"p":1,"x":2.0104,"y":0.1373},{"lv":8,"p":1,"x":2.0023,"y":0.1284},{"lv":8,"p":1,"x":1.9996,"y":0.1262},{"lv":8,"p":1,"x":1.9969,"y":0.1418},{"lv":8,"p":1,"x":1.9928,"y":0.1507},
{"lv":6,"p":1,"x":1.9904,"y":0.1708},{"lv":6,"p":1,"x":1.9901,"y":0.1864},{"lv":6,"p":1,"x":1.9955,"y":0.2042},{"lv":6,"p":1,"x":2.005,"y":0.2153},{"lv":6,"p":1,"x":2.0131,"y":0.2243},{"lv":6,"p":1,"x":2.0225,"y":0.2309},{"lv":6,"p":1,"x":2.0306,"y":0.2332},{"lv":6,"p":1,"x":2.0346,"y":0.2265},{"lv":6,"p":1,"x":2.0346,"y":0.2109},{"lv":6,"p":1,"x":2.0319,"y":0.193},{"lv":6,"p":1,"x":2.0252,"y":0.1797},{"lv":6,"p":1,"x":2.0184,"y":0.1708},{"lv":6,"p":1,"x":2.0117,"y":0.1596},{"lv":6,"p":1,"x":2.0036,"y":0.1543},{"lv":6,"p":1,"x":1.9996,"y":0.1596},{"lv":6,"p":1,"x":1.9928,"y":0.1685},
{"lv":4,"p":1,"x":1.9958,"y":0.1774},{"lv":4,"p":1,"x":1.9969,"y":0.1908},{"lv":4,"p":1,"x":2.0036,"y":0.2042},{"lv":4,"p":1,"x":2.0117,"y":0.2153},{"lv":4,"p":1,"x":2.0198,"y":0.222},{"lv":4,"p":1,"x":2.0252,"y":0.2243},{"lv":4,"p":1,"x":2.0299,"y":0.2198},{"lv":4,"p":1,"x":2.0319,"y":0.2109},{"lv":4,"p":1,"x":2.0292,"y":0.202},{"lv":4,"p":1,"x":2.0252,"y":0.1864},{"lv":4,"p":1,"x":2.0184,"y":0.1774},{"lv":4,"p":1,"x":2.0104,"y":0.1663},{"lv":4,"p":1,"x":2.0036,"y":0.1632},{"lv":4,"p":1,"x":1.9982,"y":0.1685},
{"lv":2,"p":1,"x":2.0006,"y":0.1841},{"lv":2,"p":1,"x":2.0023,"y":0.193},{"lv":2,"p":1,"x":2.0077,"y":0.202},{"lv":2,"p":1,"x":2.0144,"y":0.2086},{"lv":2,"p":1,"x":2.0265,"y":0.2109},{"lv":2,"p":1,"x":2.0252,"y":0.1975},{"lv":2,"p":1,"x":2.0198,"y":0.1841},{"lv":2,"p":1,"x":2.0131,"y":0.1774},{"lv":2,"p":1,"x":2.0077,"y":0.1721},{"lv":2,"p":1,"x":2.0029,"y":0.1752}
],
"e":[
{"lv":14,"p":1,"x":1.9702,"y":0.1634},{"lv":14,"p":1,"x":1.9743,"y":0.1754},{"lv":14,"p":1,"x":1.9771,"y":0.1829},{"lv":14,"p":1,"x":1.98,"y":0.1859},{"lv":14,"p":1,"x":1.9838,"y":0.1964},{"lv":14,"p":1,"x":1.9895,"y":0.2115},{"lv":14,"p":1,"x":1.9962,"y":0.2145},{"lv":14,"p":1,"x":1.9981,"y":0.21},{"lv":14,"p":1,"x":2.0019,"y":0.213},{"lv":14,"p":1,"x":2.0052,"y":0.2205},{"lv":14,"p":1,"x":2.0095,"y":0.2145},{"lv":14,"p":1,"x":2.0161,"y":0.2235},{"lv":14,"p":1,"x":2.0228,"y":0.225},{"lv":14,"p":1,"x":2.0266,"y":0.2416},{"lv":14,"p":1,"x":2.0304,"y":0.2551},{"lv":14,"p":1,"x":2.0323,"y":0.2461},{"lv":14,"p":1,"x":2.0356,"y":0.2461},{"lv":14,"p":1,"x":2.0366,"y":0.2581},{"lv":14,"p":1,"x":2.0428,"y":0.2491},{"lv":14,"p":1,"x":2.0475,"y":0.2581},{"lv":14,"p":1,"x":2.0504,"y":0.2461},{"lv":14,"p":1,"x":2.0528,"y":0.2461},{"lv":14,"p":1,"x":2.0528,"y":0.2596},{"lv":14,"p":1,"x":2.0551,"y":0.2596},{"lv":14,"p":1,"x":2.0551,"y":0.2401},{"lv":14,"p":1,"x":2.0561,"y":0.235},{"lv":14,"p":1,"x":2.0547,"y":0.2265},{"lv":14,"p":1,"x":2.0513,"y":0.225},{"lv":14,"p":1,"x":2.0475,"y":0.2175},{"lv":14,"p":1,"x":2.0452,"y":0.2115},{"lv":14,"p":1,"x":2.0466,"y":0.1949},{"lv":14,"p":1,"x":2.0418,"y":0.1949},{"lv":14,"p":1,"x":2.0413,"y":0.1844},{"lv":14,"p":1,"x":2.039,"y":0.1784},{"lv":14,"p":1,"x":2.0361,"y":0.1754},{"lv":14,"p":1,"x":2.0333,"y":0.1603},{"lv":14,"p":1,"x":2.0295,"y":0.1603},{"lv":14,"p":1,"x":2.0266,"y":0.1438},{"lv":14,"p":1,"x":2.0228,"y":0.1423},{"lv":14,"p":1,"x":2.0228,"y":0.1273},{"lv":14,"p":1,"x":2.0204,"y":0.1197},{"lv":14,"p":1,"x":2.0171,"y":0.1197},{"lv":14,"p":1,"x":2.0142,"y":0.1137},{"lv":14,"p":1,"x":2.0104,"y":0.1137},{"lv":14,"p":1,"x":2.0076,"y":0.1182},{"lv":14,"p":1,"x":2.0028,"y":0.1167},{"lv":14,"p":1,"x":1.9995,"y":0.1092},{"lv":14,"p":1,"x":1.9952,"y":0.1092},{"lv":14,"p":1,"x":1.9914,"y":0.1107},{"lv":14,"p":1,"x":1.9909,"y":0.0791},{"lv":14,"p":1,"x":1.9892,"y":0.0791},{"lv":14,"p":1,"x":1.989,"y":0.0927},{"lv":14,"p":1,"x":1.9862,"y":0.0972},{"lv":14,"p":1,"x":1.9848,"y":0.1002},{"lv":14,"p":1,"x":1.981,"y":0.0972},{"lv":14,"p":1,"x":1.9769,"y":0.0933},{"lv":14,"p":1,"x":1.9767,"y":0.1092},{"lv":14,"p":1,"x":1.9743,"y":0.1188},{"lv":14,"p":1,"x":1.971,"y":0.1188},{"lv":14,"p":1,"x":1.971,"y":0.1363},{"lv":14,"p":1,"x":1.9702,"y":0.1513},
{"lv":14,"p":2,"x":2.0589,"y":0.2551},{"lv":14,"p":2,"x":2.0599,"y":0.2551},{"lv":14,"p":2,"x":2.0599,"y":0.2407},{"lv":14,"p":2,"x":2.0589,"y":0.2407},
{"lv":14,"p":3,"x":1.9748,"y":0.1898},{"lv":14,"p":3,"x":1.9757,"y":0.1949},{"lv":14,"p":3,"x":1.977,"y":0.1904},
{"lv":14,"p":4,"x":1.9779,"y":0.201},{"lv":14,"p":4,"x":1.979,"y":0.204},{"lv":14,"p":4,"x":1.9798,"y":0.2001},{"lv":14,"p":4,"x":1.9786,"y":0.1989},
{"lv":14,"p":5,"x":2.0328,"y":0.1483},{"lv":14,"p":5,"x":2.0347,"y":0.1528},{"lv":14,"p":5,"x":2.0347,"y":0.1462},{"lv":14,"p":5,"x":2.0328,"y":0.1462},
{"lv":14,"p":6,"x":2.0297,"y":0.1384},{"lv":14,"p":6,"x":2.0309,"y":0.1432},{"lv":14,"p":6,"x":2.0321,"y":0.1384},
{"lv":14,"p":7,"x":1.9979,"y":0.1038},{"lv":14,"p":7,"x":1.999,"y":0.1086},{"lv":14,"p":7,"x":2.0002,"y":0.1038},
{"lv":14,"p":8,"x":1.9862,"y":-0.0042},{"lv":14,"p":8,"x":1.9868,"y":-0.0009},{"lv":14,"p":8,"x":1.9881,"y":-0.0042},
{"lv":16,"p":1,"x":2.0471,"y":0.2295},{"lv":16,"p":1,"x":2.0485,"y":0.2326},{"lv":16,"p":1,"x":2.0499,"y":0.228},{"lv":16,"p":1,"x":2.048,"y":0.2241},
{"lv":12,"p":1,"x":1.9719,"y":0.1619},{"lv":12,"p":1,"x":1.9743,"y":0.1694},{"lv":12,"p":1,"x":1.979,"y":0.1784},{"lv":12,"p":1,"x":1.9838,"y":0.1934},{"lv":12,"p":1,"x":1.9895,"y":0.201},{"lv":12,"p":1,"x":1.9971,"y":0.204},{"lv":12,"p":1,"x":2.0038,"y":0.2085},{"lv":12,"p":1,"x":2.0114,"y":0.2145},{"lv":12,"p":1,"x":2.018,"y":0.2205},{"lv":12,"p":1,"x":2.0252,"y":0.2326},{"lv":12,"p":1,"x":2.0276,"y":0.2356},{"lv":12,"p":1,"x":2.0323,"y":0.238},{"lv":12,"p":1,"x":2.0352,"y":0.2326},{"lv":12,"p":1,"x":2.0385,"y":0.2341},{"lv":12,"p":1,"x":2.0399,"y":0.2416},{"lv":12,"p":1,"x":2.0456,"y":0.2401},{"lv":12,"p":1,"x":2.0469,"y":0.225},{"lv":12,"p":1,"x":2.0423,"y":0.222},{"lv":12,"p":1,"x":2.0413,"y":0.2085},{"lv":12,"p":1,"x":2.0404,"y":0.1844},{"lv":12,"p":1,"x":2.0356,"y":0.1784},{"lv":12,"p":1,"x":2.0333,"y":0.1664},{"lv":12,"p":1,"x":2.0266,"y":0.1483},{"lv":12,"p":1,"x":2.0199,"y":0.1288},{"lv":12,"p":1,"x":2.0123,"y":0.1212},{"lv":12,"p":1,"x":2.0047,"y":0.1206},{"lv":12,"p":1,"x":1.9971,"y":0.1167},{"lv":12,"p":1,"x":1.9938,"y":0.1032},{"lv":12,"p":1,"x":1.9914,"y":0.1122},{"lv":12,"p":1,"x":1.9867,"y":0.1107},{"lv":12,"p":1,"x":1.981,"y":0.1026},{"lv":12,"p":1,"x":1.9771,"y":0.1107},{"lv":12,"p":1,"x":1.9752,"y":0.1152},{"lv":12,"p":1,"x":1.9767,"y":0.1273},{"lv":12,"p":1,"x":1.9781,"y":0.1363},{"lv":12,"p":1,"x":1.9743,"y":0.1468},{"lv":12,"p":1,"x":1.9722,"y":0.1558},
{"lv":12,"p":2,"x":2.0432,"y":0.2085},{"lv":12,"p":2,"x":2.0452,"y":0.2145},{"lv":12,"p":2,"x":2.0464,"y":0.1995},{"lv":12,"p":2,"x":2.0442,"y":0.1989},
{"lv":14,"p":9,"x":1.9771,"y":0.1408},{"lv":14,"p":9,"x":1.9786,"y":0.1453},{"lv":14,"p":9,"x":1.9798,"y":0.1408},{"lv":14,"p":9,"x":1.9786,"y":0.1363},
{"lv":14,"p":10,"x":1.9733,"y":0.1543},{"lv":14,"p":10,"x":1.9767,"y":0.1543},{"lv":14,"p":10,"x":1.9767,"y":0.1468},{"lv":14,"p":10,"x":1.9743,"y":0.1459},
{"lv":10,"p":1,"x":1.976,"y":0.1664},{"lv":10,"p":1,"x":1.9795,"y":0.1754},{"lv":10,"p":1,"x":1.9848,"y":0.1874},{"lv":10,"p":1,"x":1.9924,"y":0.1949},{"lv":10,"p":1,"x":2.0009,"y":0.201},{"lv":10,"p":1,"x":2.0085,"y":0.204},{"lv":10,"p":1,"x":2.0133,"y":0.2115},{"lv":10,"p":1,"x":2.0199,"y":0.2175},{"lv":10,"p":1,"x":2.0257,"y":0.2265},{"lv":10,"p":1,"x":2.0295,"y":0.231},{"lv":10,"p":1,"x":2.0328,"y":0.2295},{"lv":10,"p":1,"x":2.0352,"y":0.225},{"lv":10,"p":1,"x":2.0394,"y":0.2265},{"lv":10,"p":1,"x":2.0404,"y":0.225},{"lv":10,"p":1,"x":2.0399,"y":0.2025},{"lv":10,"p":1,"x":2.0394,"y":0.1889},{"lv":10,"p":1,"x":2.0352,"y":0.1724},{"lv":10,"p":1,"x":2.0304,"y":0.1603},{"lv":10,"p":1,"x":2.0257,"y":0.1453},{"lv":10,"p":1,"x":2.0171,"y":0.1303},{"lv":10,"p":1,"x":2.0104,"y":0.1242},{"lv":10,"p":1,"x":2.0038,"y":0.1227},{"lv":10,"p":1,"x":1.9971,"y":0.1197},{"lv":10,"p":1,"x":1.9914,"y":0.1167},{"lv":10,"p":1,"x":1.9848,"y":0.1062},{"lv":10,"p":1,"x":1.981,"y":0.1062},{"lv":10,"p":1,"x":1.9798,"y":0.1242},{"lv":10,"p":1,"x":1.9829,"y":0.1288},{"lv":10,"p":1,"x":1.98,"y":0.1483},{"lv":10,"p":1,"x":1.9781,"y":0.1603},
{"lv":8,"p":1,"x":1.9781,"y":0.1679},{"lv":8,"p":1,"x":1.981,"y":0.1754},{"lv":8,"p":1,"x":1.9867,"y":0.1859},{"lv":8,"p":1,"x":1.9933,"y":0.191},{"lv":8,"p":1,"x":2.0019,"y":0.198},{"lv":8,"p":1,"x":2.0085,"y":0.201},{"lv":8,"p":1,"x":2.0142,"y":0.207},{"lv":8,"p":1,"x":2.0199,"y":0.2115},{"lv":8,"p":1,"x":2.0266,"y":0.219},{"lv":8,"p":1,"x":2.0333,"y":0.219},{"lv":8,"p":1,"x":2.0375,"y":0.2205},{"lv":8,"p":1,"x":2.038,"y":0.2085},{"lv":8,"p":1,"x":2.0352,"y":0.1844},{"lv":8,"p":1,"x":2.0304,"y":0.1664},{"lv":8,"p":1,"x":2.0238,"y":0.1453},{"lv":8,"p":1,"x":2.018,"y":0.1348},{"lv":8,"p":1,"x":2.0123,"y":0.1273},{"lv":8,"p":1,"x":2.0038,"y":0.1258},{"lv":8,"p":1,"x":1.9971,"y":0.1227},{"lv":8,"p":1,"x":1.9905,"y":0.1227},{"lv":8,"p":1,"x":1.9871,"y":0.1242},{"lv":8,"p":1,"x":1.9838,"y":0.1363},{"lv":8,"p":1,"x":1.981,"y":0.1513},
{"lv":6,"p":1,"x":1.9819,"y":0.1649},{"lv":6,"p":1,"x":1.9838,"y":0.1724},{"lv":6,"p":1,"x":1.9876,"y":0.1784},{"lv":6,"p":1,"x":1.9933,"y":0.1814},{"lv":6,"p":1,"x":2.0009,"y":0.1904},{"lv":6,"p":1,"x":2.0085,"y":0.1958},{"lv":6,"p":1,"x":2.0161,"y":0.201},{"lv":6,"p":1,"x":2.0238,"y":0.2085},{"lv":6,"p":1,"x":2.0304,"y":0.2091},{"lv":6,"p":1,"x":2.0328,"y":0.1934},{"lv":6,"p":1,"x":2.0328,"y":0.1814},{"lv":6,"p":1,"x":2.0295,"y":0.1664},{"lv":6,"p":1,"x":2.0238,"y":0.1483},{"lv":6,"p":1,"x":2.0171,"y":0.1378},{"lv":6,"p":1,"x":2.0123,"y":0.1333},{"lv":6,"p":1,"x":2.0028,"y":0.1318},{"lv":6,"p":1,"x":1.9962,"y":0.1318},{"lv":6,"p":1,"x":1.9895,"y":0.1318},{"lv":6,"p":1,"x":1.9857,"y":0.1378},{"lv":6,"p":1,"x":1.9848,"y":0.1483},{"lv":6,"p":1,"x":1.9833,"y":0.1543},
{"lv":6,"p":2,"x":2.0321,"y":0.2091},{"lv":6,"p":2,"x":2.0347,"y":0.213},{"lv":6,"p":2,"x":2.0342,"y":0.2055},
{"lv":4,"p":1,"x":1.9871,"y":0.1664},{"lv":4,"p":1,"x":1.9933,"y":0.17},{"lv":4,"p":1,"x":1.9962,"y":0.1784},{"lv":4,"p":1,"x":2.0028,"y":0.1829},{"lv":4,"p":1,"x":2.0104,"y":0.1874},{"lv":4,"p":1,"x":2.0161,"y":0.1928},{"lv":4,"p":1,"x":2.0199,"y":0.1904},{"lv":4,"p":1,"x":2.0252,"y":0.1958},{"lv":4,"p":1,"x":2.0263,"y":0.1904},{"lv":4,"p":1,"x":2.0261,"y":0.1784},{"lv":4,"p":1,"x":2.0228,"y":0.1664},{"lv":4,"p":1,"x":2.018,"y":0.1573},{"lv":4,"p":1,"x":2.0123,"y":0.1453},{"lv":4,"p":1,"x":2.0076,"y":0.1378},{"lv":4,"p":1,"x":2.0019,"y":0.1327},{"lv":4,"p":1,"x":1.9962,"y":0.1378},{"lv":4,"p":1,"x":1.9914,"y":0.1453},{"lv":4,"p":1,"x":1.9887,"y":0.1528},{"lv":4,"p":1,"x":1.9881,"y":0.1619},
{"lv":2,"p":1,"x":1.9945,"y":0.1498},{"lv":2,"p":1,"x":1.9962,"y":0.167},{"lv":2,"p":1,"x":2.0009,"y":0.1724},{"lv":2,"p":1,"x":2.0057,"y":0.1754},{"lv":2,"p":1,"x":2.0123,"y":0.179},{"lv":2,"p":1,"x":2.0192,"y":0.1748},{"lv":2,"p":1,"x":2.0176,"y":0.1724},{"lv":2,"p":1,"x":2.0176,"y":0.1634},{"lv":2,"p":1,"x":2.0123,"y":0.1543},{"lv":2,"p":1,"x":2.0076,"y":0.1453},{"lv":2,"p":1,"x":2.0019,"y":0.1393},{"lv":2,"p":1,"x":1.9971,"y":0.1438}
],
"cb14":[{"lv":2,"lo":0,"hi":2},{"lv":4,"lo":2,"hi":4},{"lv":6,"lo":4,"hi":6},{"lv":8,"lo":6,"hi":8},{"lv":10,"lo":8,"hi":10},{"lv":12,"lo":10,"hi":12},{"lv":14,"lo":12,"hi":14}],
"cb16":[{"lv":2,"lo":0,"hi":2},{"lv":4,"lo":2,"hi":4},{"lv":6,"lo":4,"hi":6},{"lv":8,"lo":6,"hi":8},{"lv":10,"lo":8,"hi":10},{"lv":12,"lo":10,"hi":12},{"lv":14,"lo":12,"hi":14},{"lv":16,"lo":14,"hi":16}]
},
"vconcat":[
{"spacing":55.5,"align":"none","resolve":{"scale":{"color":"independent"}},"hconcat":[
{"bounds":"flush","spacing":0,"resolve":{"scale":{"color":"independent"}},"vconcat":[
{"width":1,"height":11,"view":{"stroke":null},"data":{"values":[{"x":0}]},"mark":{"type":"point","opacity":0},"encoding":{}},
{"bounds":"flush","center":true,"spacing":17,"resolve":{"scale":{"color":"independent"}},"hconcat":[
{"width":277,"height":256,"view":{"fill":"#f50000","stroke":"#666"},
"layer":[
{"data":{"name":"a"},"mark":{"type":"line","filled":true,"strokeWidth":0,"clip":true},"encoding":{"x":{"field":"x","type":"quantitative","title":"RG (nm)","scale":{"domain":[1.975,2.0552],"nice":false,"zero":false},"axis":{"values":[1.98,1.99,2.0,2.01,2.02,2.03,2.04,2.05],"format":".2f","tickCount":20}},"y":{"field":"y","type":"quantitative","title":"RMSD (nm)","scale":{"domain":[-0.0031,0.24],"nice":false,"zero":false},"axis":{"values":[0,0.05,0.1,0.15,0.2],"format":".2f","tickCount":20}},"color":{"field":"lv","type":"ordinal","legend":null,"scale":{"domain":[2,4,6,8,10,12,14],"range":["#0000c8","#0050f5","#00e5ef","#00e676","#e8f500","#ff6a00","#f50000"]}},"detail":{"field":"p"},"order":{"value":null}}},
{"data":{"values":[{"label":"Free Energy Landscape","x":2.0234,"y":0.24}]},"mark":{"type":"text","fontSize":19.2,"align":"center","baseline":"alphabetic","dy":-19,"color":"#111"},"encoding":{"x":{"field":"x","type":"quantitative"},"y":{"field":"y","type":"quantitative"},"text":{"field":"label"}}},
{"data":{"values":[{"label":"A","x":1.975,"y":0.24}]},"mark":{"type":"text","font":"Liberation Sans","fontWeight":"bold","fontSize":19.5,"align":"left","baseline":"alphabetic","dx":-46,"dy":-28,"color":"#000"},"encoding":{"x":{"field":"x","type":"quantitative"},"y":{"field":"y","type":"quantitative"},"text":{"field":"label"}}}
]},
{"width":26,"height":129,"view":{"stroke":"#333"},"data":{"name":"cb14"},"mark":"rect","encoding":{"y":{"field":"lo","type":"quantitative","scale":{"domain":[0,14],"nice":false},"axis":{"orient":"right","values":[0,2,4,6,8,10,12,14],"tickCount":20,"format":"d","labelPadding":2,"title":"Gibbs Free Energy (kj/mol)","titleFontSize":9.5,"titleAngle":270,"titleBaseline":"top","titlePadding":4}},"y2":{"field":"hi"},"color":{"field":"lv","type":"ordinal","legend":null,"scale":{"domain":[2,4,6,8,10,12,14],"range":["#0000c8","#0050f5","#00e5ef","#00e676","#e8f500","#ff6a00","#f50000"]}}}}
]}
]},
{"bounds":"flush","center":true,"spacing":17,"resolve":{"scale":{"color":"independent"}},"hconcat":[
{"width":269,"height":250,"view":{"fill":"#e60000","stroke":"#666"},
"layer":[
{"data":{"name":"b"},"mark":{"type":"line","filled":true,"strokeWidth":0,"clip":true},"encoding":{"x":{"field":"x","type":"quantitative","title":"RG (nm)","scale":{"domain":[1.9515,2.0302],"nice":false,"zero":false},"axis":{"values":[1.96,1.97,1.98,1.99,2.0,2.01,2.02,2.03],"format":".2f","tickCount":20}},"y":{"field":"y","type":"quantitative","title":"RMSD (nm)","scale":{"domain":[-0.0038,0.279],"nice":false,"zero":false},"axis":{"values":[0,0.05,0.1,0.15,0.2,0.25],"format":".2f","tickCount":20}},"color":{"field":"lv","type":"ordinal","legend":null,"scale":{"domain":[2,4,6,8,10,12,14,16],"range":["#0000c8","#0038f0","#00c0ff","#00f0a0","#80f030","#ffcc00","#ff6000","#e60000"]}},"detail":{"field":"p"},"order":{"value":null}}},
{"data":{"values":[{"label":"Free Energy Landscape","x":1.9988,"y":0.279}]},"mark":{"type":"text","fontSize":18.7,"align":"center","baseline":"alphabetic","dy":-18,"color":"#111"},"encoding":{"x":{"field":"x","type":"quantitative"},"y":{"field":"y","type":"quantitative"},"text":{"field":"label"}}},
{"data":{"values":[{"label":"B","x":1.9515,"y":0.279}]},"mark":{"type":"text","font":"Liberation Sans","fontWeight":"bold","fontSize":19.5,"align":"left","baseline":"alphabetic","dx":-53,"dy":-17,"color":"#000"},"encoding":{"x":{"field":"x","type":"quantitative"},"y":{"field":"y","type":"quantitative"},"text":{"field":"label"}}}
]},
{"width":25,"height":126,"view":{"stroke":"#333"},"data":{"name":"cb16"},"mark":"rect","encoding":{"y":{"field":"lo","type":"quantitative","scale":{"domain":[0,16],"nice":false},"axis":{"orient":"right","values":[0,2,4,6,8,10,12,14,16],"tickCount":20,"format":"d","labelPadding":2,"title":"Gibbs Free Energy (kj/mol)","titleFontSize":9.3,"titleAngle":270,"titleBaseline":"top","titlePadding":4}},"y2":{"field":"hi"},"color":{"field":"lv","type":"ordinal","legend":null,"scale":{"domain":[2,4,6,8,10,12,14,16],"range":["#0000c8","#0038f0","#00c0ff","#00f0a0","#80f030","#ffcc00","#ff6000","#e60000"]}}}}
]}
]},
{"spacing":65,"align":"none","resolve":{"scale":{"color":"independent"}},"hconcat":[
{"bounds":"flush","center":true,"spacing":17,"resolve":{"scale":{"color":"independent"}},"hconcat":[
{"width":269,"height":250,"view":{"fill":"#e60000","stroke":"#666"},
"layer":[
{"data":{"name":"c"},"mark":{"type":"line","filled":true,"strokeWidth":0,"clip":true},"encoding":{"x":{"field":"x","type":"quantitative","title":"RG (nm)","scale":{"domain":[1.9593,2.0693],"nice":false,"zero":false},"axis":{"values":[1.96,1.98,2.0,2.02,2.04,2.06],"format":".2f","tickCount":20}},"y":{"field":"y","type":"quantitative","title":"RMSD (nm)","scale":{"domain":[-0.0049,0.3642],"nice":false,"zero":false},"axis":{"values":[0,0.05,0.1,0.15,0.2,0.25,0.3,0.35],"format":".2f","tickCount":20}},"color":{"field":"lv","type":"ordinal","legend":null,"scale":{"domain":[2,4,6,8,10,12,14,16],"range":["#0000c8","#0038f0","#00c0ff","#00f0a0","#80f030","#ffcc00","#ff6000","#e60000"]}},"detail":{"field":"p"},"order":{"value":null}}},
{"data":{"values":[{"label":"Free Energy Landscape","x":2.0254,"y":0.3642}]},"mark":{"type":"text","fontSize":18.7,"align":"center","baseline":"alphabetic","dy":-18,"color":"#111"},"encoding":{"x":{"field":"x","type":"quantitative"},"y":{"field":"y","type":"quantitative"},"text":{"field":"label"}}},
{"data":{"values":[{"label":"C","x":1.9593,"y":0.3642}]},"mark":{"type":"text","font":"Liberation Sans","fontWeight":"bold","fontSize":19.5,"align":"left","baseline":"alphabetic","dx":-42,"dy":-33,"color":"#000"},"encoding":{"x":{"field":"x","type":"quantitative"},"y":{"field":"y","type":"quantitative"},"text":{"field":"label"}}}
]},
{"width":25,"height":125,"view":{"stroke":"#333"},"data":{"name":"cb16"},"mark":"rect","encoding":{"y":{"field":"lo","type":"quantitative","scale":{"domain":[0,16],"nice":false},"axis":{"orient":"right","values":[0,2,4,6,8,10,12,14,16],"tickCount":20,"format":"d","labelPadding":2,"title":"Gibbs Free Energy (kj/mol)","titleFontSize":9.3,"titleAngle":270,"titleBaseline":"top","titlePadding":4}},"y2":{"field":"hi"},"color":{"field":"lv","type":"ordinal","legend":null,"scale":{"domain":[2,4,6,8,10,12,14,16],"range":["#0000c8","#0038f0","#00c0ff","#00f0a0","#80f030","#ffcc00","#ff6000","#e60000"]}}}}
]},
{"bounds":"flush","spacing":0,"resolve":{"scale":{"color":"independent"}},"vconcat":[
{"width":1,"height":5,"view":{"stroke":null},"data":{"values":[{"x":0}]},"mark":{"type":"point","opacity":0},"encoding":{}},
{"bounds":"flush","center":true,"spacing":16,"resolve":{"scale":{"color":"independent"}},"hconcat":[
{"width":256,"height":238,"view":{"fill":"#e60000","stroke":"#666"},
"layer":[
{"data":{"name":"d"},"mark":{"type":"line","filled":true,"strokeWidth":0,"clip":true},"encoding":{"x":{"field":"x","type":"quantitative","title":"RG (nm)","scale":{"domain":[1.9637,2.0674],"nice":false,"zero":false},"axis":{"values":[1.98,2.0,2.02,2.04,2.06],"format":".2f","tickCount":20,"labelFontSize":8.2,"titleFontSize":13.7}},"y":{"field":"y","type":"quantitative","title":"RMSD (nm)","scale":{"domain":[-0.004,0.3139],"nice":false,"zero":false},"axis":{"values":[0,0.05,0.1,0.15,0.2,0.25,0.3],"format":".2f","tickCount":20,"labelFontSize":8.2,"titleFontSize":13.7}},"color":{"field":"lv","type":"ordinal","legend":null,"scale":{"domain":[2,4,6,8,10,12,14,16],"range":["#0000c8","#0038f0","#00c0ff","#00f0a0","#80f030","#ffcc00","#ff6000","#e60000"]}},"detail":{"field":"p"},"order":{"value":null}}},
{"data":{"values":[{"label":"Free Energy Landscape","x":2.026,"y":0.3139}]},"mark":{"type":"text","fontSize":17.8,"align":"center","baseline":"alphabetic","dy":-17,"color":"#111"},"encoding":{"x":{"field":"x","type":"quantitative"},"y":{"field":"y","type":"quantitative"},"text":{"field":"label"}}},
{"data":{"values":[{"label":"D","x":1.9637,"y":0.3139}]},"mark":{"type":"text","font":"Liberation Sans","fontWeight":"bold","fontSize":19.5,"align":"left","baseline":"alphabetic","dx":-61,"dy":-38,"color":"#000"},"encoding":{"x":{"field":"x","type":"quantitative"},"y":{"field":"y","type":"quantitative"},"text":{"field":"label"}}}
]},
{"width":24,"height":119,"view":{"stroke":"#333"},"data":{"name":"cb16"},"mark":"rect","encoding":{"y":{"field":"lo","type":"quantitative","scale":{"domain":[0,16],"nice":false},"axis":{"orient":"right","values":[0,2,4,6,8,10,12,14,16],"tickCount":20,"format":"d","labelPadding":2,"labelFontSize":8.4,"title":"Gibbs Free Energy (kj/mol)","titleFontSize":8.9,"titleAngle":270,"titleBaseline":"top","titlePadding":4}},"y2":{"field":"hi"},"color":{"field":"lv","type":"ordinal","legend":null,"scale":{"domain":[2,4,6,8,10,12,14,16],"range":["#0000c8","#0038f0","#00c0ff","#00f0a0","#80f030","#ffcc00","#ff6000","#e60000"]}}}}
]}
]}
]},
{"spacing":20,"align":"none","resolve":{"scale":{"color":"independent"}},"hconcat":[
{"width":117,"height":10,"view":{"stroke":null},"data":{"values":[{"x":0}]},"mark":{"type":"point","opacity":0},"encoding":{}},
{"bounds":"flush","center":true,"spacing":20,"resolve":{"scale":{"color":"independent"}},"hconcat":[
{"width":315,"height":293,"view":{"fill":"#e60000","stroke":"#666"},
"layer":[
{"data":{"name":"e"},"mark":{"type":"line","filled":true,"strokeWidth":0,"clip":true},"encoding":{"x":{"field":"x","type":"quantitative","title":"RG (nm)","scale":{"domain":[1.97,2.06],"nice":false,"zero":false},"axis":{"values":[1.98,1.99,2.0,2.01,2.02,2.03,2.04,2.05],"format":".2f","tickCount":20,"labelFontSize":10.5,"titleFontSize":17}},"y":{"field":"y","type":"quantitative","title":"RMSD (nm)","scale":{"domain":[-0.0042,0.2602],"nice":false,"zero":false},"axis":{"values":[0,0.05,0.1,0.15,0.2,0.25],"format":".2f","tickCount":20,"labelFontSize":10.5,"titleFontSize":17,"titlePadding":6}},"color":{"field":"lv","type":"ordinal","legend":null,"scale":{"domain":[2,4,6,8,10,12,14,16],"range":["#0000c8","#0038f0","#00c0ff","#00f0a0","#80f030","#ffcc00","#ff6000","#e60000"]}},"detail":{"field":"p"},"order":{"value":null}}},
{"data":{"values":[{"label":"Free Energy Landscape","x":2.0242,"y":0.2602}]},"mark":{"type":"text","fontSize":22,"align":"center","baseline":"alphabetic","dy":-21,"color":"#111"},"encoding":{"x":{"field":"x","type":"quantitative"},"y":{"field":"y","type":"quantitative"},"text":{"field":"label"}}},
{"data":{"values":[{"label":"E","x":1.97,"y":0.2602}]},"mark":{"type":"text","font":"Liberation Sans","fontWeight":"bold","fontSize":19.5,"align":"left","baseline":"alphabetic","dx":-58,"dy":-31,"color":"#000"},"encoding":{"x":{"field":"x","type":"quantitative"},"y":{"field":"y","type":"quantitative"},"text":{"field":"label"}}}
]},
{"width":30,"height":146,"view":{"stroke":"#333"},"data":{"name":"cb16"},"mark":"rect","encoding":{"y":{"field":"lo","type":"quantitative","scale":{"domain":[0,16],"nice":false},"axis":{"orient":"right","values":[0,2,4,6,8,10,12,14,16],"tickCount":20,"format":"d","labelPadding":2,"labelFontSize":10,"title":"Gibbs Free Energy (kj/mol)","titleFontSize":10.8,"titleAngle":270,"titleBaseline":"top","titlePadding":4}},"y2":{"field":"hi"},"color":{"field":"lv","type":"ordinal","legend":null,"scale":{"domain":[2,4,6,8,10,12,14,16],"range":["#0000c8","#0038f0","#00c0ff","#00f0a0","#80f030","#ffcc00","#ff6000","#e60000"]}}}}
]}
]}
]}
